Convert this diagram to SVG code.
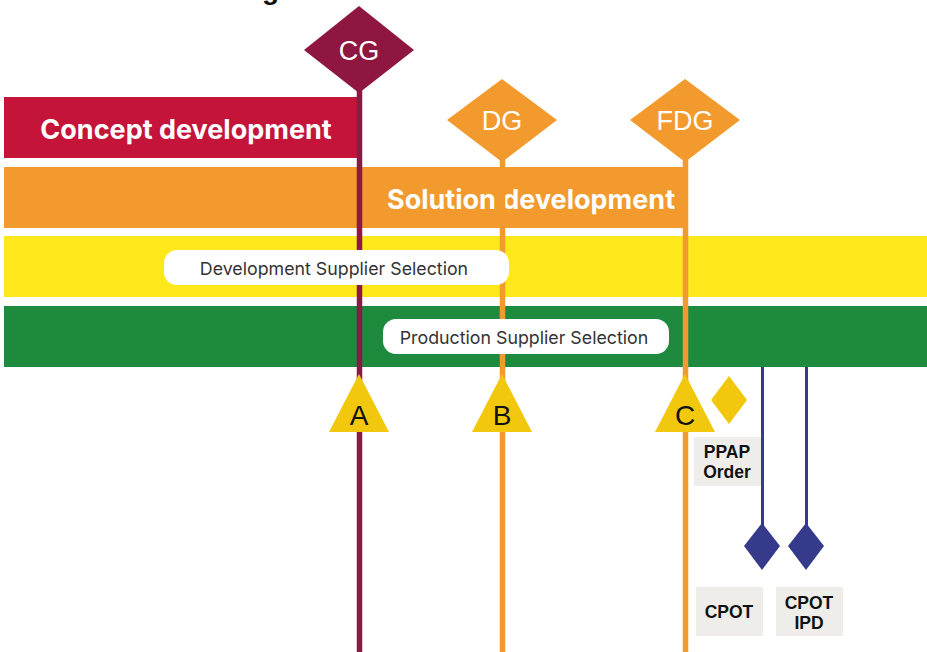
<svg xmlns="http://www.w3.org/2000/svg" width="927" height="652" viewBox="0 0 927 652">
<style>
.bar-t{font-family:"Inter","Liberation Sans",sans-serif;font-weight:700;fill:#fff;font-size:27px}
.gate-t{font-family:"Liberation Sans",Arial,sans-serif;fill:#fff;font-size:27px;text-anchor:middle}
.pill-t{font-family:"Inter","Liberation Sans",sans-serif;fill:#333;font-size:17.8px;text-anchor:middle}
.tri-t{font-family:"Liberation Sans",Arial,sans-serif;fill:#111;font-size:28px;text-anchor:middle}
.box-t{font-family:"Liberation Sans",Arial,sans-serif;font-weight:700;fill:#111;font-size:17.5px;text-anchor:middle}
.pill{fill:#fff}
.box{fill:#EEEDE9}
.tri{fill:#F2C80F}
</style>
<text x="262" y="-1" font-family="Liberation Sans, Arial, sans-serif" font-weight="700" font-size="28" fill="#111">g</text>

<g id="bar-concept">
<rect x="4" y="97" width="353" height="61" fill="#C41439"/>
<text class="bar-t" x="186" y="139" text-anchor="middle">Concept development</text>
</g>
<g id="bar-solution">
<rect x="4" y="167" width="684" height="61" fill="#F29A2E"/>
<text class="bar-t" x="531" y="209" text-anchor="middle">Solution development</text>
</g>
<g id="band-dev-supplier">
<rect x="4" y="236" width="923" height="61" fill="#FDE91B"/>
</g>
<g id="band-prod-supplier">
<rect x="4" y="306" width="923" height="61" fill="#1D8A3E"/>
</g>

<g id="connectors">
<line x1="359.5" y1="88" x2="359.5" y2="652" stroke="#8B1A43" stroke-width="5.5"/>
<line x1="502.5" y1="158" x2="502.5" y2="652" stroke="#F29A2E" stroke-width="5.5"/>
<line x1="685.5" y1="158" x2="685.5" y2="652" stroke="#F29A2E" stroke-width="5.5"/>
<line x1="762.5" y1="367" x2="762.5" y2="530" stroke="#363A8A" stroke-width="3"/>
<line x1="806.5" y1="367" x2="806.5" y2="530" stroke="#363A8A" stroke-width="3"/>
</g>

<g id="pill-dev">
<rect class="pill" x="164" y="250" width="345" height="35" rx="13"/>
<text class="pill-t" x="334" y="275">Development Supplier Selection</text>
</g>
<g id="pill-prod">
<rect class="pill" x="383" y="319" width="286" height="35" rx="13"/>
<text class="pill-t" x="524" y="344">Production Supplier Selection</text>
</g>

<g id="gate-cg">
<polygon points="359,6 414,50 359,93 304,50" fill="#8E1640"/>
<text class="gate-t" x="359" y="60">CG</text>
</g>
<g id="gate-dg">
<polygon points="502,79 557,120 502,162 447,120" fill="#F29A2E"/>
<text class="gate-t" x="502" y="130">DG</text>
</g>
<g id="gate-fdg">
<polygon points="685,79 740,120 685,162 630,120" fill="#F29A2E"/>
<text class="gate-t" x="685" y="130">FDG</text>
</g>

<g id="milestone-a">
<polygon class="tri" points="359,374 389,432 329,432"/>
<text class="tri-t" x="359" y="425">A</text>
</g>
<g id="milestone-b">
<polygon class="tri" points="502,374 532,432 472,432"/>
<text class="tri-t" x="502" y="425">B</text>
</g>
<g id="milestone-c">
<polygon class="tri" points="685,374 715,432 655,432"/>
<text class="tri-t" x="685" y="425">C</text>
</g>

<g id="ppap">
<polygon points="729,376 747,400 729,424 711,400" fill="#F2C80F"/>
<rect class="box" x="694" y="437" width="67" height="49"/>
<text class="box-t" x="727" y="458">PPAP</text>
<text class="box-t" x="727" y="478">Order</text>
</g>
<g id="cpot">
<polygon points="762,523 780,546 762,570 744,546" fill="#363A8A"/>
<rect class="box" x="696" y="587" width="67" height="49"/>
<text class="box-t" x="729" y="618">CPOT</text>
</g>
<g id="cpot-ipd">
<polygon points="806,523 824,546 806,570 788,546" fill="#363A8A"/>
<rect class="box" x="776" y="587" width="67" height="49"/>
<text class="box-t" x="809" y="609">CPOT</text>
<text class="box-t" x="809" y="629">IPD</text>
</g>
</svg>
